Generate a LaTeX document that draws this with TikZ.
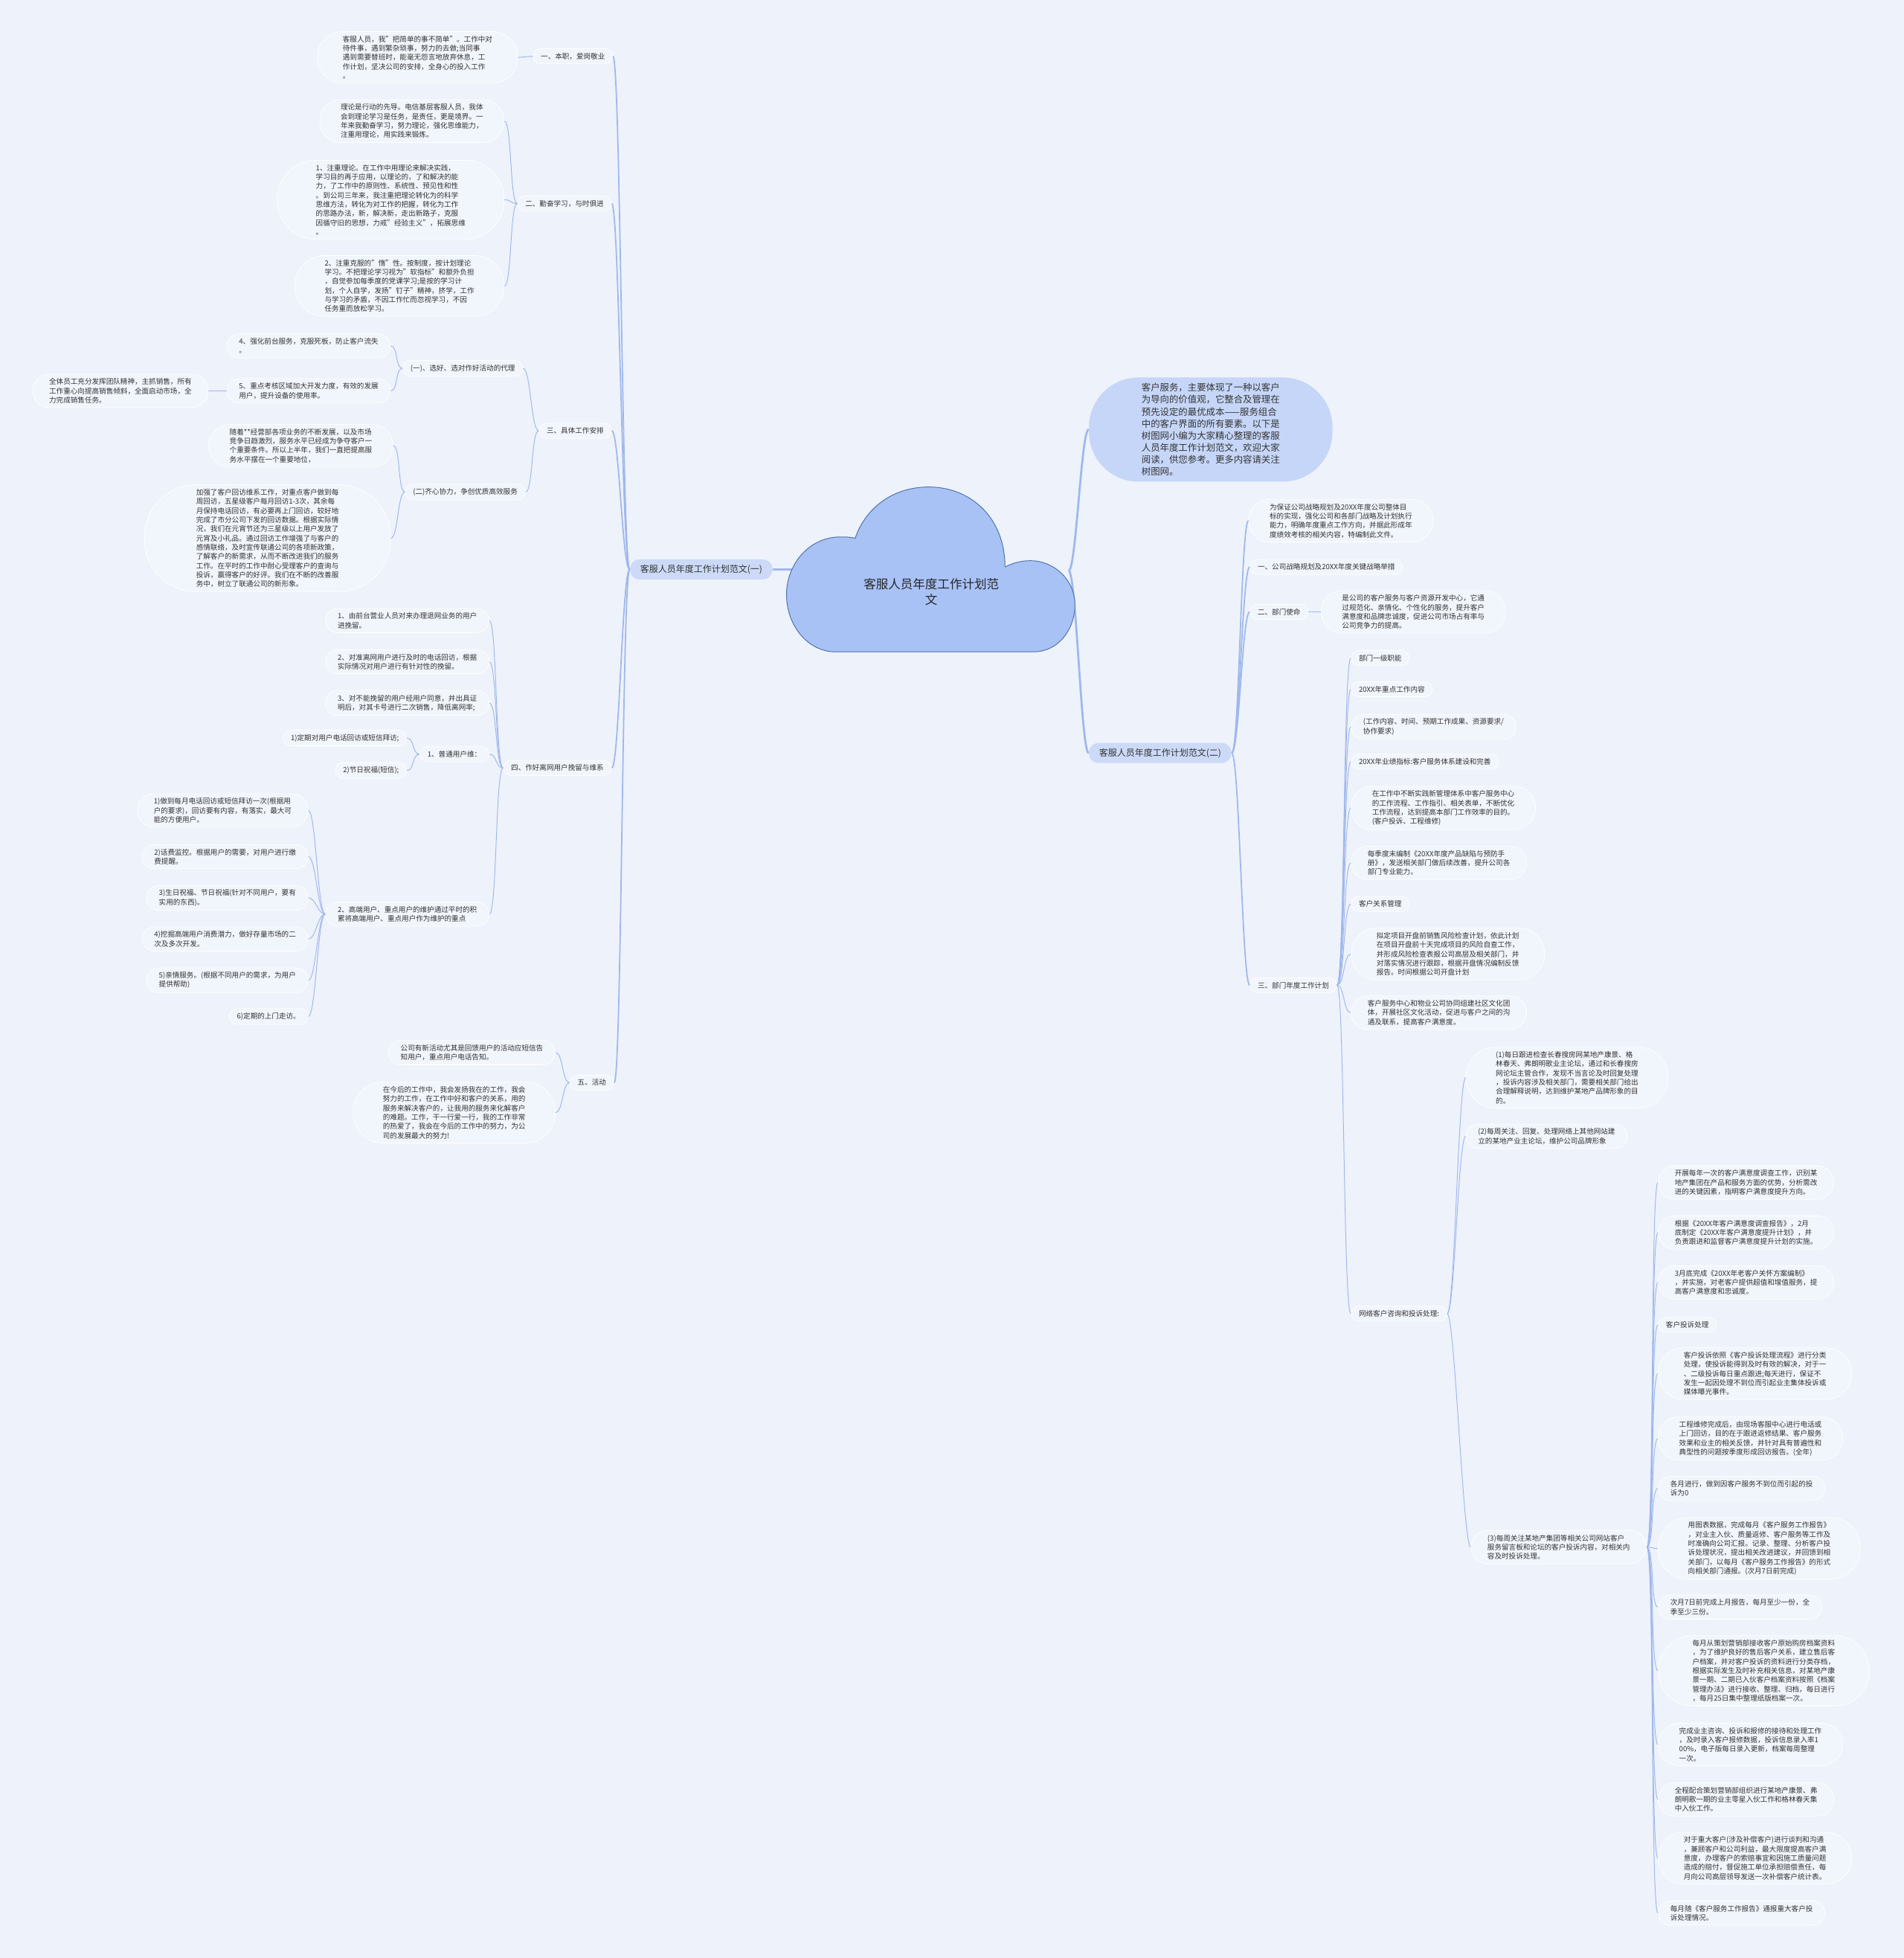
\documentclass[tikz,border=0pt]{standalone}
\usepackage{fontspec}
\setmainfont{Noto Sans CJK SC}
\usepackage{xcolor}
\usepackage{tikz}
\definecolor{pagebg}{HTML}{EEF2FA}
\definecolor{boxfill}{HTML}{F1F5FC}
\definecolor{inkgray}{HTML}{333333}
\definecolor{linkblue}{HTML}{9FB8EC}
\definecolor{branchfill}{HTML}{CCDAF7}
\definecolor{introfill}{HTML}{C6D6F8}
\definecolor{cloudfill}{HTML}{A9C2F6}
\definecolor{cloudline}{HTML}{4F74A8}
\newcommand\leaffont{\fontsize{4.87pt}{6.27pt}\selectfont}
\newcommand\branchfont{\fontsize{6.1pt}{7.5pt}\selectfont}
\newcommand\introfont{\fontsize{6.3pt}{8.2pt}\selectfont}
\newcommand\rootfont{\fontsize{8.4pt}{11pt}\selectfont}

\begin{document}
\begin{tikzpicture}[x=0.03cm, y=-0.03cm,
  leaf/.style={draw=white, line width=0.4pt, fill=boxfill, text=inkgray, font=\leaffont, align=left, inner ysep=0.1cm, rounded corners=#1, inner xsep=#1},
  leaf/.default=5.3pt,
  branchbox/.style={fill=branchfill, text=inkgray, font=\branchfont, inner ysep=0.13cm, rounded corners=6.5pt, inner xsep=7pt},
  introbox/.style={fill=introfill, text=inkgray, font=\introfont, align=left, inner ysep=0.14cm, rounded corners=34pt, inner xsep=36pt},
  twig/.style={draw=linkblue, line width=0.5pt, to path={.. controls +(6,0) and +(-6,0) .. (\tikztotarget)}},
  limb/.style={twig, line width=0.9pt},
  trunk/.style={twig, line width=1.4pt}]
  \fill[pagebg] (0,0) rectangle (1525,1568);

  % left half
  \node[branchbox, anchor=east] (L1) at (619,456) {客服人员年度工作计划范文(一)};
  \node[leaf, anchor=east] (benzhi) at (491,45) {一、本职，爱岗敬业};
  \node[leaf, anchor=east] (qinfen) at (490,163) {二、勤奋学习，与时俱进};
  \node[leaf, anchor=east] (anpai) at (490,345) {三、具体工作安排};
  \node[leaf, anchor=east] (wanliu) at (490,615) {四、作好离网用户挽留与维系};
  \node[leaf, anchor=east] (huodong) at (492,867) {五、活动};

  \node[leaf=17.4pt, anchor=east] (benzhiA) at (415,46) {客服人员，我"把简单的事不简单"。工作中对\\待件事，遇到繁杂琐事，努力的去做;当同事\\遇到需要替班时，能毫无怨言地放弃休息，工\\作计划，坚决公司的安排，全身心的投入工作\\。};
  \node[leaf=14.3pt, anchor=east] (qinfenA) at (404,97) {理论是行动的先导。电信基层客服人员，我体\\会到理论学习是任务，是责任，更是境界。一\\年来我勤奋学习，努力理论，强化思维能力，\\注重用理论，用实践来锻炼。};
  \node[leaf=26.4pt, anchor=east] (qinfenB) at (404,160) {1、注重理论。在工作中用理论来解决实践，\\学习目的再于应用，以理论的，了和解决的能\\力，了工作中的原则性、系统性、预见性和性\\。到公司三年来，我注重把理论转化为的科学\\思维方法，转化为对工作的把握，转化为工作\\的思路办法，新，解决新，走出新路子，克服\\因循守旧的思想，力戒"经验主义"，拓展思维\\。};
  \node[leaf=20.4pt, anchor=east] (qinfenC) at (404,229) {2、注重克服的"惰"性。按制度，按计划理论\\学习。不把理论学习视为"软指标"和额外负担\\，自觉参加每季度的党课学习;是按的学习计\\划，个人自学，发扬"钉子"精神，挤学，工作\\与学习的矛盾，不因工作忙而忽视学习，不因\\任务重而放松学习。};

  \node[leaf, anchor=east] (daili) at (419,295) {(一)、选好、选对作好活动的代理};
  \node[leaf, anchor=east] (xieli) at (421,394) {(二)齐心协力，争创优质高效服务};
  \node[leaf=8.3pt, anchor=east] (qiantai) at (313,277) {4、强化前台服务，克服死板，防止客户流失\\。};
  \node[leaf=8.3pt, anchor=east] (kaifa) at (313,313) {5、重点考核区域加大开发力度，有效的发展\\用户，提升设备的使用率。};
  \node[leaf=11.3pt, anchor=east] (tuandui) at (167,313) {全体员工充分发挥团队精神，主抓销售，所有\\工作重心向提高销售倾斜，全面启动市场，全\\力完成销售任务。};
  \node[leaf=14.3pt, anchor=east] (suizhe) at (315,357) {随着**经营部各项业务的不断发展，以及市场\\竞争日趋激烈，服务水平已经成为争夺客户一\\个重要条件。所以上半年，我们一直把提高服\\务水平摆在一个重要地位，};
  \node[leaf=35.4pt, anchor=east] (huifang) at (313,431) {加强了客户回访维系工作，对重点客户做到每\\周回访，五星级客户每月回访1-3次，其余每\\月保持电话回访，有必要再上门回访，较好地\\完成了市分公司下发的回访数据。根据实际情\\况，我们在元宵节还为三星级以上用户发放了\\元宵及小礼品。通过回访工作增强了与客户的\\感情联络，及时宣传联通公司的各项新政策，\\了解客户的新需求，从而不断改进我们的服务\\工作。在平时的工作中耐心受理客户的查询与\\投诉，赢得客户的好评。我们在不断的改善服\\务中，树立了联通公司的新形象。};

  \node[leaf=8.3pt, anchor=east] (tuiwang) at (392,497) {1、由前台营业人员对来办理退网业务的用户\\进挽留。};
  \node[leaf=8.3pt, anchor=east] (lidian) at (392,530) {2、对准离网用户进行及时的电话回访，根据\\实际情况对用户进行有针对性的挽留。};
  \node[leaf=8.3pt, anchor=east] (erci) at (392,563) {3、对不能挽留的用户经用户同意，并出具证\\明后，对其卡号进行二次销售，降低离网率;};
  \node[leaf, anchor=east] (putong) at (392,604) {1、普通用户维：};
  \node[leaf=8.3pt, anchor=east] (gaoduan) at (392,732) {2、高端用户、重点用户的维护通过平时的积\\累将高端用户、重点用户作为维护的重点};
  \node[leaf, anchor=east] (dingqi) at (326,591) {1)定期对用户电话回访或短信拜访;};
  \node[leaf, anchor=east] (jieri) at (326,617) {2)节日祝福(短信);};
  \node[leaf=11.3pt, anchor=east] (gdA) at (247,649) {1)做到每月电话回访或短信拜访一次(根据用\\户的要求)，回访要有内容，有落实，最大可\\能的方便用户。};
  \node[leaf=8.3pt, anchor=east] (gdB) at (247,686) {2)话费监控。根据用户的需要，对用户进行缴\\费提醒。};
  \node[leaf=8.3pt, anchor=east] (gdC) at (247,719) {3)生日祝福、节日祝福(针对不同用户，要有\\实用的东西)。};
  \node[leaf=8.3pt, anchor=east] (gdD) at (247,752) {4)挖掘高端用户消费潜力，做好存量市场的二\\次及多次开发。};
  \node[leaf=8.3pt, anchor=east] (gdE) at (247,785) {5)亲情服务。(根据不同用户的需求，为用户\\提供帮助)};
  \node[leaf, anchor=east] (gdF) at (247,814) {6)定期的上门走访。};

  \node[leaf=8.3pt, anchor=east] (xinhd) at (445,843) {公司有新活动尤其是回馈用户的活动应短信告\\知用户，重点用户电话告知。};
  \node[leaf=20.4pt, anchor=east] (jinhou) at (445,891) {在今后的工作中，我会发扬我在的工作，我会\\努力的工作，在工作中好和客户的关系，用的\\服务来解决客户的，让我用的服务来化解客户\\的难题。工作，干一行爱一行，我的工作非常\\的热爱了，我会在今后的工作中的努力，为公\\司的发展最大的努力!};

  % right half
  \node[introbox, anchor=west] (intro) at (872,344) {客户服务，主要体现了一种以客户\\为导向的价值观，它整合及管理在\\预先设定的最优成本——服务组合\\中的客户界面的所有要素。以下是\\树图网小编为大家精心整理的客服\\人员年度工作计划范文，欢迎大家\\阅读，供您参考。更多内容请关注\\树图网。};
  \node[branchbox, anchor=west] (R2) at (872,603) {客服人员年度工作计划范文(二)};
  \node[leaf=14.3pt, anchor=west] (baozheng) at (1000,417) {为保证公司战略规划及20XX年度公司整体目\\标的实现，强化公司和各部门战略及计划执行\\能力，明确年度重点工作方向，并据此形成年\\度绩效考核的相关内容，特编制此文件。};
  \node[leaf, anchor=west] (zhanlue) at (1001,454) {一、公司战略规划及20XX年度关键战略举措};
  \node[leaf, anchor=west] (shiming) at (1001,490) {二、部门使命};
  \node[leaf=14.3pt, anchor=west] (shimingA) at (1058,490) {是公司的客户服务与客户资源开发中心，它通\\过规范化、亲情化、个性化的服务，提升客户\\满意度和品牌忠诚度，促进公司市场占有率与\\公司竞争力的提高。};
  \node[leaf, anchor=west] (jihua) at (1001,789) {三、部门年度工作计划};

  \node[leaf, anchor=west] (zhineng) at (1082,527) {部门一级职能};
  \node[leaf, anchor=west] (zhongdian) at (1082,552) {20XX年重点工作内容};
  \node[leaf=8.3pt, anchor=west] (neirong) at (1082,582) {(工作内容、时间、预期工作成果、资源要求/\\协作要求)};
  \node[leaf, anchor=west] (zhibiao) at (1082,610) {20XX年业绩指标:客户服务体系建设和完善};
  \node[leaf=14.3pt, anchor=west] (shijian) at (1082,647) {在工作中不断实践新管理体系中客户服务中心\\的工作流程、工作指引、相关表单，不断优化\\工作流程，达到提高本部门工作效率的目的。\\(客户投诉、工程维修)};
  \node[leaf=11.3pt, anchor=west] (quexian) at (1082,691) {每季度末编制《20XX年度产品缺陷与预防手\\册》，发送相关部门做后续改善，提升公司各\\部门专业能力。};
  \node[leaf, anchor=west] (guanxi) at (1082,724) {客户关系管理};
  \node[leaf=17.4pt, anchor=west] (fengxian) at (1082,764) {拟定项目开盘前销售风险检查计划，依此计划\\在项目开盘前十天完成项目的风险自查工作，\\并形成风险检查表报公司高层及相关部门，并\\对落实情况进行跟踪，根据开盘情况编制反馈\\报告。时间根据公司开盘计划};
  \node[leaf=11.3pt, anchor=west] (shequ) at (1082,811) {客户服务中心和物业公司协同组建社区文化团\\体，开展社区文化活动，促进与客户之间的沟\\通及联系，提高客户满意度。};
  \node[leaf, anchor=west] (wangluo) at (1082,1052) {网络客户咨询和投诉处理:};

  \node[leaf=20.4pt, anchor=west] (wlA) at (1174,863) {(1)每日跟进检查长春搜房网某地产康景、格\\林春天、弗朗明歌业主论坛，通过和长春搜房\\网论坛主管合作，发现不当言论及时回复处理\\，投诉内容涉及相关部门，需要相关部门给出\\合理解释说明，达到维护某地产品牌形象的目\\的。};
  \node[leaf=8.3pt, anchor=west] (wlB) at (1174,910) {(2)每周关注、回复、处理网络上其他网站建\\立的某地产业主论坛，维护公司品牌形象};
  \node[leaf=11.3pt, anchor=west] (wlC) at (1178,1239) {(3)每周关注某地产集团等相关公司网站客户\\服务留言板和论坛的客户投诉内容，对相关内\\容及时投诉处理。};

  \node[leaf=11.3pt, anchor=west] (tsA) at (1328,947) {开展每年一次的客户满意度调查工作，识别某\\地产集团在产品和服务方面的优势，分析需改\\进的关键因素，指明客户满意度提升方向。};
  \node[leaf=11.3pt, anchor=west] (tsB) at (1328,987) {根据《20XX年客户满意度调查报告》，2月\\底制定《20XX年客户满意度提升计划》，并\\负责跟进和监督客户满意度提升计划的实施。};
  \node[leaf=11.3pt, anchor=west] (tsC) at (1328,1027) {3月底完成《20XX年老客户关怀方案编制》\\，并实施，对老客户提供超值和增值服务，提\\高客户满意度和忠诚度。};
  \node[leaf, anchor=west] (tsD) at (1328,1061) {客户投诉处理};
  \node[leaf=17.4pt, anchor=west] (tsE) at (1328,1100) {客户投诉依照《客户投诉处理流程》进行分类\\处理，使投诉能得到及时有效的解决，对于一\\、二级投诉每日重点跟进;每天进行，保证不\\发生一起因处理不到位而引起业主集体投诉或\\媒体曝光事件。};
  \node[leaf=14.3pt, anchor=west] (tsF) at (1328,1152) {工程维修完成后，由现场客服中心进行电话或\\上门回访，目的在于跟进返修结果、客户服务\\效果和业主的相关反馈，并针对具有普遍性和\\典型性的问题按季度形成回访报告。(全年)};
  \node[leaf=8.3pt, anchor=west] (tsG) at (1328,1192) {各月进行，做到因客户服务不到位而引起的投\\诉为0};
  \node[leaf=20.4pt, anchor=west] (tsH) at (1328,1240) {用图表数据，完成每月《客户服务工作报告》\\，对业主入伙、质量返修、客户服务等工作及\\时准确向公司汇报。记录、整理、分析客户投\\诉处理状况，提出相关改进建议，并回馈到相\\关部门，以每月《客户服务工作报告》的形式\\向相关部门通报。(次月7日前完成)};
  \node[leaf=8.3pt, anchor=west] (tsI) at (1328,1287) {次月7日前完成上月报告，每月至少一份，全\\季至少三份。};
  \node[leaf=23.4pt, anchor=west] (tsJ) at (1328,1338) {每月从策划营销部接收客户原始购房档案资料\\，为了维护良好的售后客户关系，建立售后客\\户档案，并对客户投诉的资料进行分类存档，\\根据实际发生及时补充相关信息，对某地产康\\景一期、二期已入伙客户档案资料按照《档案\\管理办法》进行接收、整理、归档，每日进行\\，每月25日集中整理纸版档案一次。};
  \node[leaf=14.3pt, anchor=west] (tsK) at (1328,1397) {完成业主咨询、投诉和报修的接待和处理工作\\，及时录入客户报修数据，投诉信息录入率1\\00\%，电子版每日录入更新，档案每周整理\\一次。};
  \node[leaf=11.3pt, anchor=west] (tsL) at (1328,1441) {全程配合策划营销部组织进行某地产康景、弗\\朗明歌一期的业主零星入伙工作和格林春天集\\中入伙工作。};
  \node[leaf=17.4pt, anchor=west] (tsM) at (1328,1488) {对于重大客户(涉及补偿客户)进行谈判和沟通\\，兼顾客户和公司利益，最大限度提高客户满\\意度，办理客户的索赔事宜和因施工质量问题\\造成的赔付，督促施工单位承担赔偿责任，每\\月向公司高层领导发送一次补偿客户统计表。};
  \node[leaf=8.3pt, anchor=west] (tsN) at (1328,1532) {每月随《客户服务工作报告》通报重大客户投\\诉处理情况。};

  % connectors
  \coordinate (rootW) at (636,456);
  \coordinate (rootE) at (856,457);
  \draw[trunk] (L1.east) to (rootW);
  \draw[trunk] (rootE) to (intro.west);
  \draw[trunk] (rootE) to (R2.west);
  \foreach \kid in {benzhi, qinfen, anpai, wanliu, huodong}
    \draw[limb] (\kid.east) to (L1.west);
  \foreach \kid in {baozheng, zhanlue, shiming, jihua}
    \draw[limb] (R2.east) to (\kid.west);
  \draw[twig] (benzhiA.east) to (benzhi.west);
  \foreach \kid in {qinfenA, qinfenB, qinfenC}
    \draw[twig] (\kid.east) to (qinfen.west);
  \draw[twig] (daili.east) to (anpai.west);
  \draw[twig] (xieli.east) to (anpai.west);
  \draw[twig] (qiantai.east) to (daili.west);
  \draw[twig] (kaifa.east) to (daili.west);
  \draw[twig] (tuandui.east) to (kaifa.west);
  \draw[twig] (suizhe.east) to (xieli.west);
  \draw[twig] (huifang.east) to (xieli.west);
  \foreach \kid in {tuiwang, lidian, erci, putong, gaoduan}
    \draw[twig] (\kid.east) to (wanliu.west);
  \draw[twig] (dingqi.east) to (putong.west);
  \draw[twig] (jieri.east) to (putong.west);
  \foreach \kid in {gdA, gdB, gdC, gdD, gdE, gdF}
    \draw[twig] (\kid.east) to (gaoduan.west);
  \draw[twig] (xinhd.east) to (huodong.west);
  \draw[twig] (jinhou.east) to (huodong.west);
  \draw[twig] (shiming.east) to (shimingA.west);
  \foreach \kid in {zhineng, zhongdian, neirong, zhibiao, shijian, quexian, guanxi, fengxian, shequ, wangluo}
    \draw[twig] (jihua.east) to (\kid.west);
  \foreach \kid in {wlA, wlB, wlC}
    \draw[twig] (wangluo.east) to (\kid.west);
  \foreach \kid in {tsA, tsB, tsC, tsD, tsE, tsF, tsG, tsH, tsI, tsJ, tsK, tsL, tsM, tsN}
    \draw[twig] (wlC.east) to (\kid.west);

  % central cloud
  \filldraw[fill=cloudfill, draw=cloudline, line width=0.5pt] (669,522) -- (828,522)
    .. controls (847,522) and (861,505) .. (861,484)
    .. controls (861,465) and (845,449) .. (825,449)
    .. controls (818,449) and (811,451) .. (805,454)
    .. controls (805,415) and (778,390) .. (744,390)
    .. controls (712,390) and (692,410) .. (685,431)
    .. controls (681,430) and (677,430) .. (673,430)
    .. controls (648,430) and (630,452) .. (630,476)
    .. controls (630,502) and (648,522) .. (669,522) -- cycle;
  \node[font=\rootfont, text=black!85, align=center] (root) at (746,474) {客服人员年度工作计划范\\文};
\end{tikzpicture}
\end{document}
